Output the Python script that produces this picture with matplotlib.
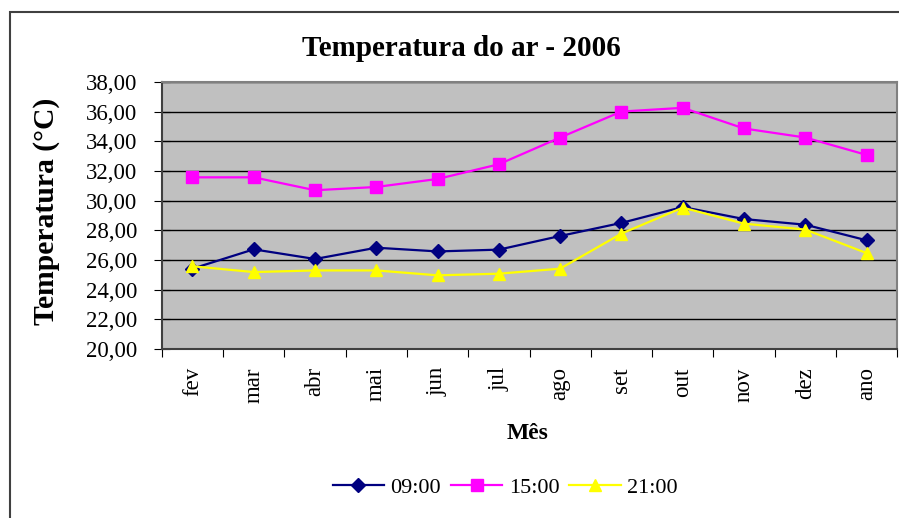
import matplotlib.pyplot as plt
from matplotlib.patches import Rectangle
from matplotlib.ticker import FuncFormatter, MultipleLocator

meses = ['fev', 'mar', 'abr', 'mai', 'jun', 'jul', 'ago', 'set', 'out', 'nov', 'dez', 'ano']
t0900 = [25.42, 26.72, 26.07, 26.83, 26.58, 26.70, 27.62, 28.50, 29.57, 28.76, 28.38, 27.33]
t1500 = [31.57, 31.57, 30.70, 30.92, 31.46, 32.45, 34.25, 36.00, 36.25, 34.86, 34.25, 33.08]
t2100 = [25.58, 25.19, 25.30, 25.30, 24.97, 25.08, 25.42, 27.78, 29.53, 28.45, 28.05, 26.47]

plt.rcParams['font.family'] = ['Liberation Serif', 'DejaVu Serif']

fig = plt.figure(figsize=(8.99, 5.18), dpi=100)
ax = fig.add_axes([0.180, 0.326, 0.818, 0.516])

x = list(range(len(meses)))
ax.plot(x, t0900, color='#000080', marker='D', markersize=7, linewidth=1.6, label='09:00')
ax.plot(x, t1500, color='#FF00FF', marker='s', markersize=8, linewidth=1.6, label='15:00')
ax.plot(x, t2100, color='#FFFF00', marker='^', markersize=9, linewidth=1.6, label='21:00')

ax.set_facecolor('#C0C0C0')
ax.set_xlim(-0.5, len(meses) - 0.5)
ax.set_ylim(20, 38)
ax.yaxis.set_major_locator(MultipleLocator(2))
ax.yaxis.set_major_formatter(FuncFormatter(lambda v, p: f'{v:.2f}'.replace('.', ',')))
ax.grid(axis='y', color='black', linewidth=1)
ax.set_axisbelow(True)

ax.set_xticks([i - 0.5 for i in range(len(meses) + 1)])
ax.set_xticklabels([])
ax.set_xticks(x, minor=True)
ax.set_xticklabels(meses, minor=True, rotation=90, fontsize=16.5, va='top', ha='center')
ax.tick_params(axis='x', which='minor', length=0, pad=13)
ax.tick_params(axis='x', which='major', length=6, direction='out', color='black')
ax.tick_params(axis='y', length=12, direction='inout', labelsize=16.5, pad=11.5)

for s in ['top', 'right']:
    ax.spines[s].set_color('#808080')
    ax.spines[s].set_linewidth(1.5)
for s in ['left', 'bottom']:
    ax.spines[s].set_color('#404040')
    ax.spines[s].set_linewidth(1.5)

fig.text(0.513, 0.907, 'Temperatura do ar - 2006', ha='center', va='center',
         fontsize=21, fontweight='bold')
fig.text(0.052, 0.591, 'Temperatura (°C)', ha='center', va='center', rotation=90,
         fontsize=21.3, fontweight='bold')
fig.text(0.587, 0.164, 'Mês', ha='center', va='center', fontsize=17, fontweight='bold')

fig.legend(loc='center', bbox_to_anchor=(0.562, 0.058), ncol=3, frameon=False,
           fontsize=16, handlelength=2.3, columnspacing=0.45, handletextpad=0.3)

fig.patches.append(Rectangle((0.011, -0.05), 1.2, 0.977 + 0.05, transform=fig.transFigure,
                             fill=False, edgecolor='#404040', linewidth=1.5))

fig.savefig('out.png', dpi=100)
